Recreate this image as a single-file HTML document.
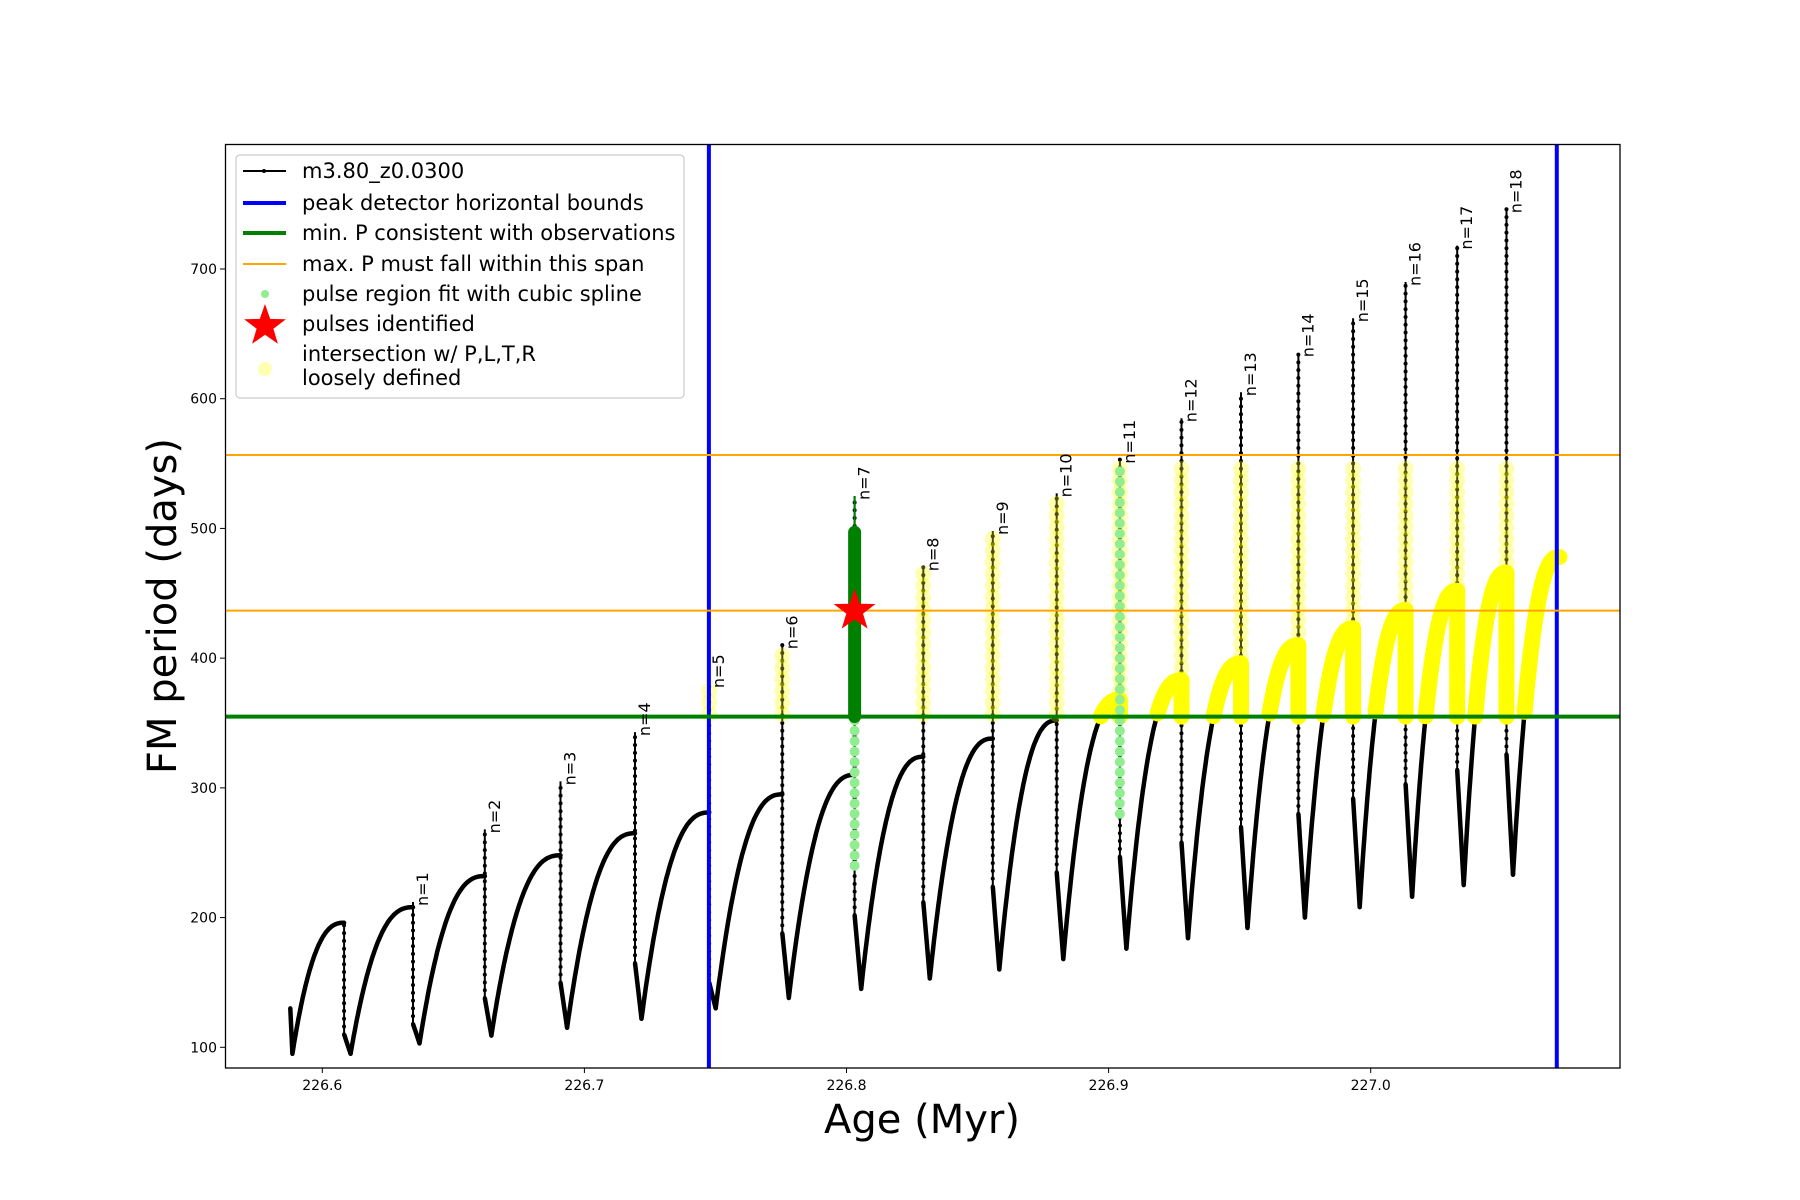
<!DOCTYPE html>
<html><head><meta charset="utf-8"><style>
html,body{margin:0;padding:0;background:#fff;}
svg{display:block;font-family:"DejaVu Sans","Liberation Sans",sans-serif;}
</style></head><body>
<svg id="chart" width="1800" height="1200" viewBox="0 0 1800 1200" xmlns="http://www.w3.org/2000/svg">
<rect x="0" y="0" width="1800" height="1200" fill="#fff"/>
<g id="plot"></g>
<rect x="225.5" y="144.5" width="1394.5" height="923.5" fill="none" stroke="#000" stroke-width="1.3"/>
<g id="ticks"></g>
<text x="922" y="1133" font-size="40" text-anchor="middle">Age (Myr)</text>
<text transform="translate(176,606) rotate(-90)" font-size="40" text-anchor="middle">FM period (days)</text>
<g>
<rect x="236" y="155" width="448" height="243" rx="4" fill="#fff" fill-opacity="0.8" stroke="#ccc" stroke-width="1.2"/>
<g><line x1="243" y1="171" x2="286" y2="171" stroke="#000" stroke-width="2"/><circle cx="264" cy="171" r="2" fill="#000"/><text x="302" y="178" font-size="21">m3.80_z0.0300</text></g>
<g><line x1="243" y1="203" x2="286" y2="203" stroke="#0000ff" stroke-width="4"/><text x="302" y="210" font-size="21">peak detector horizontal bounds</text></g>
<g><line x1="243" y1="233" x2="286" y2="233" stroke="#008000" stroke-width="4"/><text x="302" y="240" font-size="21">min. P consistent with observations</text></g>
<g><line x1="243" y1="264" x2="286" y2="264" stroke="#ffa500" stroke-width="2"/><text x="302" y="271" font-size="21">max. P must fall within this span</text></g>
<g><circle cx="265" cy="294" r="4" fill="#90ee90"/><text x="302" y="301" font-size="21">pulse region fit with cubic spline</text></g>
<g><polygon id="legstar" fill="#ff0000"/><text x="302" y="331" font-size="21">pulses identified</text></g>
<g><circle cx="265" cy="369" r="7" fill="#ffff00" fill-opacity="0.3"/><text x="302" y="361" font-size="21">intersection w/ P,L,T,R</text><text x="302" y="385" font-size="21">loosely defined</text></g>
</g>
</svg>
<script>
// ---- data ----
const xTicks = [226.6, 226.7, 226.8, 226.9, 227.0];
const xTickLabels = ["226.6", "226.7", "226.8", "226.9", "227.0"];
const yTicks = [100, 200, 300, 400, 500, 600, 700];
const yTickLabels = ["100", "200", "300", "400", "500", "600", "700"];
const pulseAge = [226.6083, 226.6346, 226.662, 226.6909, 226.7193, 226.7476, 226.7755, 226.8031, 226.8293, 226.8558, 226.8802, 226.9043, 226.9278, 226.9505, 226.9724, 226.9933, 227.0133, 227.033, 227.0518];
const pulseLabels = ["", "n=1","n=2","n=3","n=4","n=5","n=6","n=7","n=8","n=9","n=10","n=11","n=12","n=13","n=14","n=15","n=16","n=17","n=18"];
const cycleMin = [95, 95, 103, 109, 115, 122, 130, 138, 145, 153, 160, 168, 176, 184, 192, 200, 208, 216, 225, 233];
const cycleMax = [196, 208, 232, 248, 265, 281, 295, 310, 324, 338, 352, 368, 383, 396, 410, 423, 437, 452, 466, 478];
const spikeTop = [196, 212, 268, 305, 343, 380, 410, 525, 470, 498, 527, 553, 585, 605, 635, 662, 690, 718, 746];
const dropBottom = [110, 118, 138, 150, 165, 150, 188, 202, 212, 224, 235, 247, 258, 270, 280, 292, 303, 314, 326];
const startAge = 226.5878, startVal = 130, endAge = 227.072;
const minLag = 0.0025;
const peakBounds = [226.7475, 227.071];
const minP = 354.9;
const maxPSpan = [436.6, 556.6];
const pulseId = [226.8031, 438];
const greenCore = [355, 497];
const lightGreen7 = [240, 355];
const lightGreen11 = [280, 550];

// ---- axes ----
function X(v){ return 322.3 + (v - 226.6) * 2621; }
function Y(v){ return 1047.3 - (v - 100) * 1.2972; }
const NS = "http://www.w3.org/2000/svg";
const plot = document.getElementById('plot');
function mk(tag, attrs, parent){ const e = document.createElementNS(NS, tag); for (const k in attrs) e.setAttribute(k, attrs[k]); (parent||plot).appendChild(e); return e; }
function shape(t){ return 1 - Math.pow(1 - t, 2.5); }

const defs = mk('defs', {});
const cp = mk('clipPath', {id:'clip'}, defs);
mk('rect', {x:226, y:145, width:1394, height:923}, cp);
const g = mk('g', {'clip-path':'url(#clip)'});

const cyclePts = [];
for (let k = 0; k < cycleMin.length; k++) {
  const a0 = k === 0 ? startAge + 0.0008 : pulseAge[k-1] + minLag;
  const a1 = k < pulseAge.length ? pulseAge[k] : endAge;
  const pts = [];
  for (let i = 0; i <= 60; i++) { const t = i / 60; pts.push([a0 + (a1 - a0) * t, cycleMin[k] + (cycleMax[k] - cycleMin[k]) * shape(t)]); }
  cyclePts.push(pts);
}
function path(pts){ return pts.map((p,i)=>(i?'L':'M')+X(p[0]).toFixed(1)+','+Y(p[1]).toFixed(1)).join(''); }

// black series
for (let k = 0; k < cycleMin.length; k++) {
  const pts = cyclePts[k].slice();
  if (k === 0) pts.unshift([startAge, startVal]);
  const p = mk('path', {d:path(pts), fill:'none', stroke:'#000', 'stroke-width':4.5, 'stroke-linejoin':'round', 'stroke-linecap':'round'}, g);
  
  
  if (k < pulseAge.length) {
    const a = pulseAge[k];
    const s = mk('path', {d:path([[a, cycleMax[k]], [a, spikeTop[k]], [a, dropBottom[k]]]), fill:'none', stroke:'#000', 'stroke-width':2}, g);
    
    
    for (let v = dropBottom[k]; v <= spikeTop[k]; v += 6) mk('circle', {cx:X(a), cy:Y(v), r:2, fill:'#000'}, g);
    const d = mk('path', {d:path([[a, dropBottom[k]], [a + minLag*0.5, (dropBottom[k]+cycleMin[k+1])/2], [a + minLag, cycleMin[k+1]]]), fill:'none', stroke:'#000', 'stroke-width':4.5, 'stroke-linejoin':'round'}, g);
    
    
  }
}

// yellow faint markers along spikes
for (let k = 5; k < pulseAge.length; k++) {
  if (k === 7) continue;
  const top = Math.min(spikeTop[k], 552);
  for (let v = minP + 2; v <= top; v += 9) {
    const c = mk('circle', {cx:X(pulseAge[k]), cy:Y(v), r:8, fill:'#ffff00', 'fill-opacity':0.3}, g);
    
    
  }
}
// thick yellow cycle segments above min P (on top of black)
for (let k = 11; k < cycleMin.length; k++) {
  const pts = cyclePts[k].filter(p => p[1] >= minP);
  if (k < pulseAge.length) pts.push([pulseAge[k], minP]);
  const p = mk('path', {d:path(pts), fill:'none', stroke:'#ffff00', 'stroke-width':16, 'stroke-linecap':'round', 'stroke-linejoin':'round'}, g);
  
  
}

// light green spline points
[[7, lightGreen7], [11, lightGreen11]].forEach(([k, r]) => {
  for (let v = r[0]; v <= r[1]; v += 8) {
    const c = mk('circle', {cx:X(pulseAge[k]), cy:Y(v), r:5, fill:'#90ee90'}, g);
    
    
  }
});
const gl = mk('line', {x1:X(pulseAge[7]), x2:X(pulseAge[7]), y1:Y(greenCore[0]), y2:Y(spikeTop[7]), stroke:'#008000', 'stroke-width':2}, g);


const gc = mk('line', {x1:X(pulseAge[7]), x2:X(pulseAge[7]), y1:Y(greenCore[0]), y2:Y(greenCore[1]), stroke:'#008000', 'stroke-width':13, 'stroke-linecap':'round'}, g);



// reference lines
peakBounds.forEach(v => { const l = mk('line', {x1:X(v), x2:X(v), y1:145, y2:1068, stroke:'#0000ff', 'stroke-width':4}, g);
  
   });
maxPSpan.forEach(v => { const l = mk('line', {x1:226, x2:1620, y1:Y(v), y2:Y(v), stroke:'#ffa500', 'stroke-width':2}, g);
  
   });
const gm = mk('line', {x1:226, x2:1620, y1:Y(minP), y2:Y(minP), stroke:'#008000', 'stroke-width':4}, g);



function starPts(cx, cy, R){ const r = R*0.4; let s=[]; for (let i=0;i<10;i++){ const ang=-Math.PI/2+i*Math.PI/5; const rr=i%2?r:R; s.push((cx+rr*Math.cos(ang)).toFixed(1)+','+(cy+rr*Math.sin(ang)).toFixed(1)); } return s.join(' '); }
const st = mk('polygon', {points:starPts(X(pulseId[0]), Y(pulseId[1])+2, 22), fill:'#ff0000'}, g);


document.getElementById('legstar').setAttribute('points', starPts(265, 326, 22));

for (let k = 1; k < pulseAge.length; k++) {
  const t = mk('text', {transform:`translate(${(X(pulseAge[k])+15).toFixed(1)},${(Y(spikeTop[k])+4).toFixed(1)}) rotate(-90)`, 'font-size':16}, g);
  t.textContent = pulseLabels[k];
  
  
}

const tg = document.getElementById('ticks');
xTicks.forEach((v,i) => {
  mk('line', {x1:X(v), x2:X(v), y1:1068, y2:1073, stroke:'#000', 'stroke-width':1}, tg);
  const t = mk('text', {x:X(v), y:1090, 'font-size':14, 'text-anchor':'middle'}, tg);
  t.textContent = xTickLabels[i];
  
  
});
yTicks.forEach((v,i) => {
  mk('line', {x1:220, x2:225, y1:Y(v), y2:Y(v), stroke:'#000', 'stroke-width':1}, tg);
  const t = mk('text', {x:217, y:Y(v)+5, 'font-size':14, 'text-anchor':'end'}, tg);
  t.textContent = yTickLabels[i];
  
  
});
</script>
</body></html>
